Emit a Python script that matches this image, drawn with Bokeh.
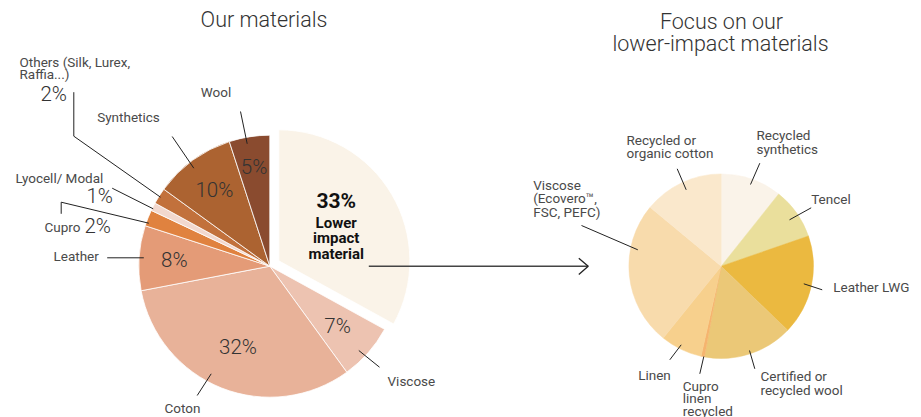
import math
from bokeh.plotting import figure
from bokeh.models import Range1d, ColumnDataSource
from bokeh.core.properties import value
from bokeh.embed import file_html
from bokeh.resources import INLINE

# ---------------- data ----------------
left_names = ["Lower impact material", "Viscose", "Coton", "Leather", "Cupro",
              "Lyocell/ Modal", "Others (Silk, Lurex, Raffia...)", "Synthetics", "Wool"]
left_values = [33, 7, 32, 8, 2, 1, 2, 10, 5]
left_colors = ["#FAF3E8", "#EDC3B1", "#E8B299", "#E49B77", "#E0823F",
               "#F2D8CE", "#C2713C", "#AC6331", "#8A4B2F"]

right_names = ["Recycled synthetics", "Tencel", "Leather LWG", "Certified or recycled wool",
               "Cupro linen recycled", "Linen", "Viscose (Ecovero™, FSC, PEFC)",
               "Recycled or organic cotton"]
right_values = [10.7, 9.0, 17.5, 15.7, 0.6, 7.3, 25.2, 14.0]
right_colors = ["#FAF3E9", "#EADF9C", "#EBB940", "#EBC877", "#F5B46E",
                "#F7D08D", "#F8DBAC", "#FAE8CC"]

# ---------------- layout ----------------
W, H = 921, 417
LIGHT = value("Roboto Light")
REG = value("Roboto")
NAME = "13.5px"
PCT = "20.5px"

p = figure(width=W, height=H, output_backend="svg", toolbar_location=None,
           x_range=Range1d(0, W), y_range=Range1d(-H, 0),
           min_border=0, outline_line_color=None, border_fill_color="white")
p.axis.visible = False
p.grid.visible = False


def Y(py):
    return -py


def pie(values, colors, cx, cy, r, explode=None, line_color="white", line_width=0.8):
    total = float(sum(values))
    xs, ys, sa, ea, mids = [], [], [], [], []
    cum = 0.0
    for i, v in enumerate(values):
        a = cum / total
        b = (cum + v) / total
        cum += v
        mid = (a + b) / 2 * 2 * math.pi  # clockwise from 12 o'clock
        mids.append(mid)
        ox = oy = 0.0
        if explode and i in explode:
            ox = explode[i] * math.sin(mid)
            oy = explode[i] * math.cos(mid)
        xs.append(cx + ox)
        ys.append(Y(cy) + oy)
        sa.append(math.pi / 2 - 2 * math.pi * b)
        ea.append(math.pi / 2 - 2 * math.pi * a)
    src = ColumnDataSource(dict(x=xs, y=ys, s=sa, e=ea, c=colors))
    lc = "c" if line_color is None else line_color
    p.wedge(x="x", y="y", radius=r, start_angle="s", end_angle="e", direction="anticlock",
            fill_color="c", line_color=lc, line_width=line_width, source=src)
    return xs, ys, mids


def txt(x, y, s, size=NAME, font=REG, color="#4a4a4a", align="left", style="normal"):
    p.text(x=[x], y=[Y(y)], text=[s], text_font=font, text_font_size=size,
           text_color=color, text_align=align, text_baseline="middle",
           text_font_style=style)


def line(pts, color="#222222", width=1.0):
    p.line(x=[a for a, b in pts], y=[Y(b) for a, b in pts], line_color=color,
           line_width=width)


# ---------------- left pie ----------------
LCX, LCY, LR = 269.3, 265.7, 131
lx, ly, lmid = pie(left_values, left_colors, LCX, LCY, LR, explode={0: 10.5})

# inner percentage labels
inner = {1: 0.69, 2: 0.66, 3: 0.73, 7: 0.72, 8: 0.77}
for i, f in inner.items():
    px = lx[i] + f * LR * math.sin(lmid[i])
    py = -(ly[i] + f * LR * math.cos(lmid[i]))
    txt(px, py, f"{left_values[i]}%", size=PCT, font=LIGHT, color="#333333", align="center")

# exploded slice text
bx = lx[0] + 0.5 * LR * math.sin(lmid[0])
by = -(ly[0] + 0.5 * LR * math.cos(lmid[0]))
txt(bx + 1, by - 26.5, f"{left_values[0]}%", size="21px", color="#111111", align="center", style="bold")
for k, w in enumerate(["Lower", "impact", "material"]):
    txt(bx + 1, by - 5 + 15.6 * k, w, size="15px", color="#111111", align="center", style="bold")

# outer labels
txt(19, 61.7, "Others (Silk, Lurex,")
txt(19, 73.3, "Raffia...)")
txt(40, 93, f"{left_values[6]}%", size=PCT, font=LIGHT, color="#333333")
txt(215.5, 91.7, "Wool", align="center")
txt(128, 116.7, "Synthetics", align="center")
txt(15, 177.7, "Lyocell/ Modal")
txt(86, 195, f"{left_values[5]}%", size=PCT, font=LIGHT, color="#333333")
txt(44, 226, "Cupro")
txt(84, 225, f"{left_values[4]}%", size=PCT, font=LIGHT, color="#333333")
txt(53, 255, "Leather")
txt(387, 380, "Viscose")
txt(182, 407.3, "Coton", align="center")

line([(73.3, 91.7), (73.3, 135.7), (160, 196.7)])
line([(240, 111), (246.7, 143.3)])
line([(171.7, 136), (193.3, 167.7)])
line([(111.7, 187.7), (152.7, 208.3)])
line([(60.7, 213.3), (60.7, 201.7), (148.3, 222.7)])
line([(106.7, 257.3), (143.3, 257.3)])
line([(358.3, 350), (379, 366.7)])
line([(196.7, 395), (210.7, 373.3)])

# arrow
line([(368.3, 265.7), (587.7, 265.7)], color="#444444", width=1.6)
line([(578.3, 257.7), (587.7, 265.7), (578.3, 274)], color="#222222", width=1.3)

# ---------------- right pie ----------------
RCX, RCY, RR = 720.7, 265.7, 92.3
pie(right_values, right_colors, RCX, RCY, RR, line_color=None, line_width=0.5)

txt(626, 139.3, "Recycled or")
txt(626, 152.7, "organic cotton")
txt(756, 134.3, "Recycled")
txt(756, 148.3, "synthetics")
txt(810.7, 198.3, "Tencel")
txt(832.7, 286, "Leather LWG")
txt(760, 375.7, "Certified or")
txt(760, 389, "recycled wool")
txt(682.3, 385, "Cupro")
txt(682.3, 397.7, "linen")
txt(682.3, 410, "recycled")
txt(637.7, 374.3, "Linen")
txt(532.7, 184.3, "Viscose")
txt(532.7, 197.7, "(Ecovero™,")
txt(532.7, 211.7, "FSC, PEFC)")

line([(676.7, 168.3), (685.7, 189.3)])
line([(759.3, 162.7), (750, 184)])
line([(810.7, 207.3), (789, 219.3)])
line([(803.3, 283.3), (821.7, 289.3)])
line([(749, 350), (754.3, 368.3)])
line([(703.3, 356), (699.3, 373.3)])
line([(680.7, 344.3), (669.3, 359.3)])
line([(581, 225), (637.3, 249.3)])

# ---------------- titles ----------------
TITLE = "21.5px"
txt(263.5, 19, "Our materials", size=TITLE, font=LIGHT, color="#333333", align="center")
txt(721, 20.7, "Focus on our", size=TITLE, font=LIGHT, color="#333333", align="center")
txt(720, 42.7, "lower-impact materials", size=TITLE, font=LIGHT, color="#333333", align="center")

open("out.html", "w").write(file_html(p, INLINE))
